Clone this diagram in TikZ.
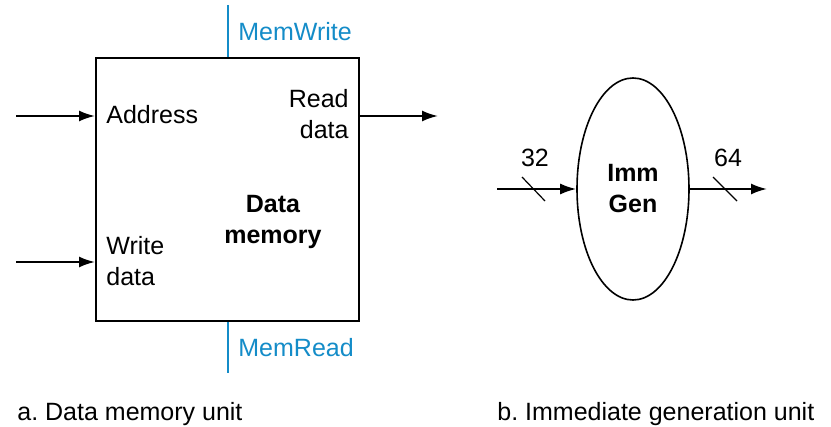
\documentclass[tikz,border=0pt]{standalone}
\usepackage{fontspec}
\setmainfont{Liberation Sans}
\usetikzlibrary{shapes.geometric,arrows.meta}
\definecolor{ctrlblue}{RGB}{20,140,200}
\frenchspacing
\begin{document}
\begin{tikzpicture}[x=0.5pt,y=-0.5pt,
    font=\fontsize{12.5}{15.5}\selectfont,
    unit/.style={draw,line width=1pt,minimum width=131.5pt,minimum height=131.5pt,inner sep=0pt},
    gen/.style={ellipse,draw,line width=0.8pt,minimum width=56pt,minimum height=111pt,inner sep=0pt},
    sig/.style={line width=1pt,-{Latex[length=8pt,width=5.5pt]}},
    ctrl/.style={draw=ctrlblue,line width=0.8pt},
    ctrltext/.style={text=ctrlblue,anchor=base west,inner sep=0pt},
    lbl/.style={anchor=base west,inner sep=0pt},
    tick/.style={line width=0.6pt}]
\useasboundingbox (0,0) rectangle (831,427);
\node[unit] (mem) at (227.5,189.5) {};
\node[gen] (imm) at (633,189) {};
\coordinate (addrin) at (16,116);
\coordinate (wrin) at (16,262);
\coordinate (rdout) at (438,116);
\coordinate (mw) at (228,5);
\coordinate (mr) at (228,373);
\coordinate (immin) at (497,189);
\coordinate (immout) at (767,189);
\draw[sig] (addrin) -- (addrin -| mem.west);
\draw[sig] (wrin) -- (wrin -| mem.west);
\draw[sig] (rdout -| mem.east) -- (rdout);
\draw[ctrl] (mw) -- (mw |- mem.north);
\draw[ctrl] (mr) -- (mr |- mem.south);
\draw[sig] (immin) -- (imm.west);
\draw[sig] (imm.east) -- (immout);
\draw[tick] (522,177) -- (545,201);
\draw[tick] (713,177) -- (737,201);
\node[ctrltext] (mwlbl) at (238,41) {MemWrite};
\node[ctrltext] (mrlbl) at (238,357) {MemRead};
\node[lbl] (addr) at (106,124) {Address};
\node[lbl,align=left] (wd) at (106,286) {Write\\data};
\node[anchor=base east,inner sep=0pt,align=right] (rd) at (349,139) {Read\\data};
\node[anchor=base,inner sep=0pt,align=center,font=\fontsize{12.5}{15.5}\selectfont\bfseries] (memname) at (273,244) {Data\\memory};
\node[anchor=base,inner sep=0pt,align=center,font=\fontsize{12.5}{15.5}\selectfont\bfseries] (immname) at (633,213) {Imm\\Gen};
\node[anchor=base,inner sep=0pt] (w32) at (535,167) {32};
\node[anchor=base,inner sep=0pt] (w64) at (728,167) {64};
\node[lbl] (capa) at (17,421) {a. Data memory unit};
\node[lbl] (capb) at (497,421) {b. Immediate generation unit};
\end{tikzpicture}
\end{document}
